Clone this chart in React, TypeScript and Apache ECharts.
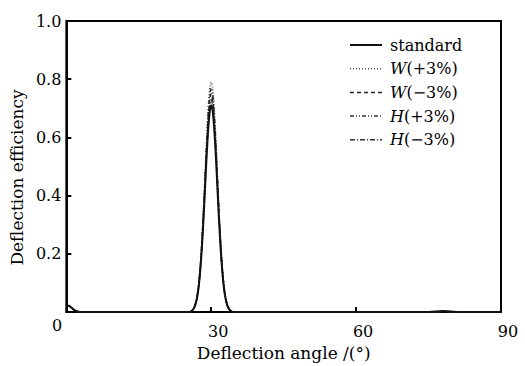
import React, { useEffect, useRef } from "react";
import * as echarts from "echarts";

const angles = [
  0, 0.5, 1, 1.5, 2, 2.5, 3, 10, 20,
  25.5, 25.75, 26, 26.25, 26.5, 26.75, 27, 27.25, 27.5, 27.75, 28, 28.25, 28.5, 28.75, 29, 29.25, 29.5, 29.75,
  30, 30.25, 30.5, 30.75, 31, 31.25, 31.5, 31.75, 32, 32.25, 32.5, 32.75, 33, 33.25, 33.5, 33.75, 34, 34.25, 34.5,
  40, 50, 60, 70, 75, 77, 78, 79, 81, 90,
];

const standard = [
  0.02, 0.022, 0.016, 0.009, 0.004, 0.001, 0, 0, 0,
  0, 0.002, 0.005, 0.009, 0.016, 0.027, 0.044, 0.068, 0.102, 0.148, 0.205, 0.275, 0.353, 0.437, 0.521, 0.596, 0.657, 0.696,
  0.71, 0.696, 0.657, 0.596, 0.521, 0.437, 0.353, 0.275, 0.205, 0.148, 0.102, 0.068, 0.044, 0.027, 0.016, 0.009, 0.005, 0.002, 0,
  0, 0, 0, 0, 0, 0.002, 0.004, 0.002, 0, 0,
];
const wPlus = [
  0.021, 0.023, 0.017, 0.009, 0.004, 0.001, 0, 0, 0,
  0, 0.002, 0.006, 0.01, 0.018, 0.03, 0.049, 0.076, 0.114, 0.165, 0.228, 0.306, 0.393, 0.486, 0.58, 0.663, 0.731, 0.775,
  0.79, 0.775, 0.731, 0.663, 0.58, 0.486, 0.393, 0.306, 0.228, 0.165, 0.114, 0.076, 0.049, 0.03, 0.018, 0.01, 0.006, 0.002, 0,
  0, 0, 0, 0, 0, 0.002, 0.004, 0.002, 0, 0,
];
const wMinus = [
  0.019, 0.021, 0.015, 0.008, 0.004, 0.001, 0, 0, 0,
  0, 0.002, 0.005, 0.01, 0.017, 0.029, 0.046, 0.072, 0.108, 0.156, 0.216, 0.29, 0.373, 0.461, 0.55, 0.629, 0.694, 0.735,
  0.75, 0.735, 0.694, 0.629, 0.55, 0.461, 0.373, 0.29, 0.216, 0.156, 0.108, 0.072, 0.046, 0.029, 0.017, 0.01, 0.005, 0.002, 0,
  0, 0, 0, 0, 0, 0.002, 0.003, 0.002, 0, 0,
];
const hPlus = [
  0.02, 0.022, 0.016, 0.009, 0.004, 0.001, 0, 0, 0,
  0, 0.002, 0.005, 0.01, 0.017, 0.029, 0.048, 0.074, 0.111, 0.161, 0.222, 0.298, 0.383, 0.474, 0.565, 0.647, 0.713, 0.755,
  0.77, 0.755, 0.713, 0.647, 0.565, 0.474, 0.383, 0.298, 0.222, 0.161, 0.111, 0.074, 0.048, 0.029, 0.017, 0.01, 0.005, 0.002, 0,
  0, 0, 0, 0, 0, 0.002, 0.004, 0.002, 0, 0,
];
const hMinus = [
  0.02, 0.021, 0.016, 0.008, 0.004, 0.001, 0, 0, 0,
  0, 0.002, 0.005, 0.009, 0.016, 0.028, 0.045, 0.07, 0.105, 0.152, 0.211, 0.283, 0.363, 0.449, 0.536, 0.613, 0.675, 0.715,
  0.73, 0.715, 0.675, 0.613, 0.536, 0.449, 0.363, 0.283, 0.211, 0.152, 0.105, 0.07, 0.045, 0.028, 0.016, 0.009, 0.005, 0.002, 0,
  0, 0, 0, 0, 0, 0.002, 0.003, 0.002, 0, 0,
];

const seriesNames = ["standard", "W(+3%)", "W(\u22123%)", "H(+3%)", "H(\u22123%)"];
const xTicks = [0, 30, 60, 90];
const yTicks = [0, 0.2, 0.4, 0.6, 0.8, 1.0];

const FONT = "DejaVu Serif";

export default function App() {
  const ref = useRef<HTMLDivElement>(null);
  useEffect(() => {
    document.body.style.margin = "0";
    if (!ref.current) return;
    const chart = echarts.init(ref.current, null, { renderer: "svg" });
    const values = [standard, wPlus, wMinus, hPlus, hMinus];
    const styles: any[] = [
      { type: "solid", width: 2, color: "#111" },
      { type: [1, 2], width: 1.5, color: "#555" },
      { type: [4, 3], width: 1.5, color: "#222" },
      { type: [4, 2, 1, 2, 1, 2], width: 1.5, color: "#333" },
      { type: [5, 2, 1, 2], width: 1.5, color: "#333" },
    ];
    const order = [1, 3, 2, 4, 0];
    const series = order.map((i) => ({
      name: seriesNames[i],
      type: "line",
      data: angles.map((a, k) => [a, values[i][k]]),
      symbol: "none",
      smooth: 0.3,
      lineStyle: styles[i],
      itemStyle: { color: styles[i].color },
      z: i === 0 ? 5 : 3,
    }));

    const legendGraphics: any[] = [];
    seriesNames.forEach((name, i) => {
      const cy = 45 + i * 23.7;
      legendGraphics.push({
        type: "line",
        shape: { x1: 350, y1: cy, x2: 382, y2: cy },
        style: {
          stroke: styles[i].color,
          lineWidth: styles[i].width,
          lineDash: Array.isArray(styles[i].type) ? styles[i].type : null,
        },
        silent: true,
      });
      const isStd = name === "standard";
      legendGraphics.push({
        type: "text",
        x: 390,
        y: cy,
        style: {
          text: isStd ? "{n|standard}" : `{i|${name[0]}}{n|${name.slice(1)}}`,
          verticalAlign: "middle",
          align: "left",
          fill: "#000",
          rich: {
            i: { fontFamily: FONT, fontStyle: "italic", fontSize: 16, fill: "#000" },
            n: { fontFamily: FONT, fontSize: 16, fill: "#000" },
          },
        },
        silent: true,
      });
    });

    chart.setOption({
      animation: false,
      grid: {
        left: 65,
        right: 24,
        top: 21,
        bottom: 53,
        show: true,
        borderColor: "#000",
        borderWidth: 2,
      },
      xAxis: {
        type: "value",
        min: 0,
        max: 90,
        interval: 30,
        axisLine: { show: true, lineStyle: { color: "#000", width: 2 } },
        axisTick: { show: true, inside: true, length: 5, lineStyle: { color: "#000", width: 2 } },
        splitLine: { show: false },
        axisLabel: {
          fontFamily: FONT,
          fontSize: 16,
          color: "#000",
          margin: 11,
          padding: [0, 0, 0, 14],
          formatter: (v: number) => (v === xTicks[0] ? "" : String(v)),
        },
        name: "Deflection angle /(\u00b0)",
        nameLocation: "middle",
        nameGap: 30,
        nameTextStyle: { fontFamily: FONT, fontSize: 17, color: "#000" },
      },
      yAxis: {
        type: "value",
        min: 0,
        max: 1,
        interval: 0.2,
        axisLine: { show: true, lineStyle: { color: "#000", width: 2 } },
        axisTick: { show: true, inside: true, length: 5, lineStyle: { color: "#000", width: 2 } },
        splitLine: { show: false },
        axisLabel: {
          fontFamily: FONT,
          fontSize: 16,
          color: "#000",
          margin: 5,
          formatter: (v: number) => (v === yTicks[0] ? "" : v.toFixed(1)),
        },
        name: "Deflection efficiency",
        nameLocation: "middle",
        nameGap: 34,
        nameTextStyle: { fontFamily: FONT, fontSize: 17, color: "#000", padding: [0, 22, 0, 0] },
      },
      graphic: [
        {
          type: "text",
          x: 57,
          y: 325,
          style: {
            text: "0",
            fontFamily: FONT,
            fontSize: 16,
            fill: "#000",
            align: "center",
            verticalAlign: "middle",
          },
        },
        ...legendGraphics,
      ],
      series,
    });
    return () => chart.dispose();
  }, []);
  return <div ref={ref} style={{ width: 525, height: 366 }} />;
}
